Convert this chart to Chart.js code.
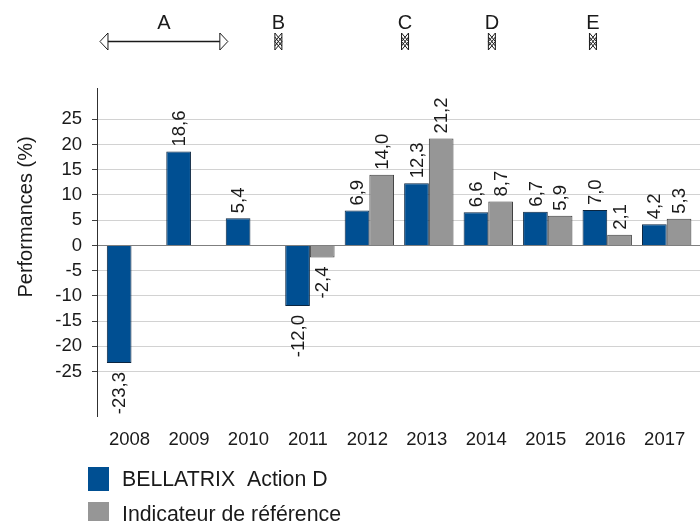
<!DOCTYPE html>
<html lang="fr">
<head>
  <meta charset="UTF-8">
  <title>Performances</title>
  <script src="https://cdnjs.cloudflare.com/ajax/libs/Chart.js/4.4.1/chart.umd.min.js"></script>
  <style>
    body { margin: 0; background: #fff; }
    canvas { display: block; }
  </style>
</head>
<body>
  <canvas id="perfChart" width="700" height="521"></canvas>
  <script>
    const years = ["2008", "2009", "2010", "2011", "2012", "2013", "2014", "2015", "2016", "2017"];
    const fundValues = [-23.3, 18.6, 5.4, -12.0, 6.9, 12.3, 6.6, 6.7, 7.0, 4.2];
    const indexValues = [null, null, null, -2.4, 14.0, 21.2, 8.7, 5.9, 2.1, 5.3];
    const yTicks = [-25, -20, -15, -10, -5, 0, 5, 10, 15, 20, 25];
    const yTitle = "Performances (%)";

    // periodes en haut du graphique, en unites de l'axe x
    const periodNames = ["A", "B", "C", "D", "E"];
    const periodStart = [-0.53, 2.47, 4.6, 6.06, 7.76];
    const periodEnd = [1.62, 2.47, 4.6, 6.06, 7.76];

    const fontName = "'Liberation Sans', Arial, sans-serif";
    const fundColor = "#004f92";
    const indexColor = "#969696";

    function toPoints(values) {
      return values.map((v, i) => ({ x: i, y: v }));
    }

    function frNumber(v) {
      return v.toFixed(1).replace(".", ",");
    }

    // etiquettes verticales au bout des barres
    const barLabels = {
      id: "barLabels",
      afterDatasetsDraw(chart) {
        const ctx = chart.ctx;
        ctx.save();
        ctx.font = "18.5px " + fontName;
        ctx.fillStyle = "#1a1a1a";
        ctx.textBaseline = "middle";
        chart.data.datasets.forEach((ds, d) => {
          chart.getDatasetMeta(d).data.forEach((bar, i) => {
            const v = ds.data[i].y;
            if (v === null) return;
            ctx.save();
            ctx.translate(bar.x, bar.y + (v < 0 ? 9 : -5));
            ctx.rotate(-Math.PI / 2);
            ctx.textAlign = v < 0 ? "right" : "left";
            ctx.fillText(frNumber(v), 0, 1);
            ctx.restore();
          });
        });
        ctx.restore();
      }
    };

    function arrowHead(ctx, tipX, y, w) {
      ctx.beginPath();
      ctx.moveTo(tipX + w, y - 8.5);
      ctx.lineTo(tipX, y);
      ctx.lineTo(tipX + w, y + 8.5);
      ctx.closePath();
      ctx.stroke();
    }

    // fleches A-E, titre de l'axe y et legende
    const extras = {
      id: "extras",
      afterDraw(chart) {
        const ctx = chart.ctx;
        const xs = chart.scales.x;
        ctx.save();
        ctx.strokeStyle = "#1a1a1a";
        ctx.fillStyle = "#1a1a1a";
        ctx.lineWidth = 1;
        ctx.font = "20px " + fontName;
        ctx.textAlign = "center";
        ctx.textBaseline = "alphabetic";
        periodNames.forEach((name, i) => {
          const a = xs.getPixelForValue(periodStart[i]);
          const b = xs.getPixelForValue(periodEnd[i]);
          ctx.fillText(name, (a + b) / 2, 29);
          if (a === b) {
            arrowHead(ctx, a - 3.5, 41.5, 7);
            arrowHead(ctx, a + 3.5, 41.5, -7);
            ctx.beginPath();
            ctx.moveTo(a - 3.5, 37);
            ctx.lineTo(a + 3.5, 46);
            ctx.moveTo(a + 3.5, 37);
            ctx.lineTo(a - 3.5, 46);
            ctx.stroke();
          } else {
            arrowHead(ctx, a, 41.5, 8);
            arrowHead(ctx, b, 41.5, -8);
            ctx.lineWidth = 1.4;
            ctx.beginPath();
            ctx.moveTo(a + 8, 41.5);
            ctx.lineTo(b - 8, 41.5);
            ctx.stroke();
            ctx.lineWidth = 1;
          }
        });

        ctx.save();
        ctx.translate(26, 217);
        ctx.rotate(-Math.PI / 2);
        ctx.textBaseline = "middle";
        ctx.fillText(yTitle, 0, 0);
        ctx.restore();

        ctx.font = "21.3px " + fontName;
        ctx.textAlign = "left";
        ctx.textBaseline = "middle";
        chart.data.datasets.forEach((ds, i) => {
          const top = 467 + i * 35;
          ctx.fillStyle = ds.backgroundColor;
          ctx.fillRect(88, top, 21, 24);
          ctx.fillStyle = "#1a1a1a";
          ctx.fillText(ds.label, 122, top + 13);
        });
        ctx.restore();
      }
    };

    new Chart(document.getElementById("perfChart"), {
      type: "bar",
      data: {
        datasets: [
          { label: "BELLATRIX  Action D", data: toPoints(fundValues), backgroundColor: fundColor, borderColor: "#0a2540", borderWidth: 1 },
          { label: "Indicateur de référence", data: toPoints(indexValues), backgroundColor: indexColor, borderColor: "#3c3c3c", borderWidth: 1 }
        ]
      },
      options: {
        responsive: false,
        animation: false,
        layout: { padding: { top: 88, bottom: 0, left: 0, right: 0 } },
        datasets: { bar: { categoryPercentage: 0.83, barPercentage: 1 } },
        plugins: { legend: { display: false }, tooltip: { enabled: false } },
        scales: {
          x: {
            type: "linear",
            offset: false,
            min: -0.58,
            max: 9.56,
            afterBuildTicks(scale) { scale.ticks = years.map((y, i) => ({ value: i })); },
            afterFit(scale) { scale.height = 105; },
            grid: { display: false },
            border: { display: false },
            ticks: {
              autoSkip: false,
              maxRotation: 0,
              padding: 5,
              labelOffset: -2,
              color: "#1a1a1a",
              font: { family: fontName, size: 18.5 },
              callback: (v) => years[v]
            }
          },
          y: {
            min: -33.8,
            max: 31.2,
            afterBuildTicks(scale) { scale.ticks = yTicks.map((v) => ({ value: v })); },
            afterFit(scale) { scale.width = 97; },
            grid: {
              color: (c) => c.tick && c.tick.value === 0 ? "#7f7f7f" : "#d2d2d2",
              tickColor: "#404040",
              tickLength: 5,
              lineWidth: 1
            },
            border: { display: true, color: "#303030", width: 1 },
            ticks: {
              padding: 10,
              color: "#1a1a1a",
              font: { family: fontName, size: 18.5 },
              callback: (v) => String(v)
            }
          }
        }
      },
      plugins: [barLabels, extras]
    });
  </script>
</body>
</html>
